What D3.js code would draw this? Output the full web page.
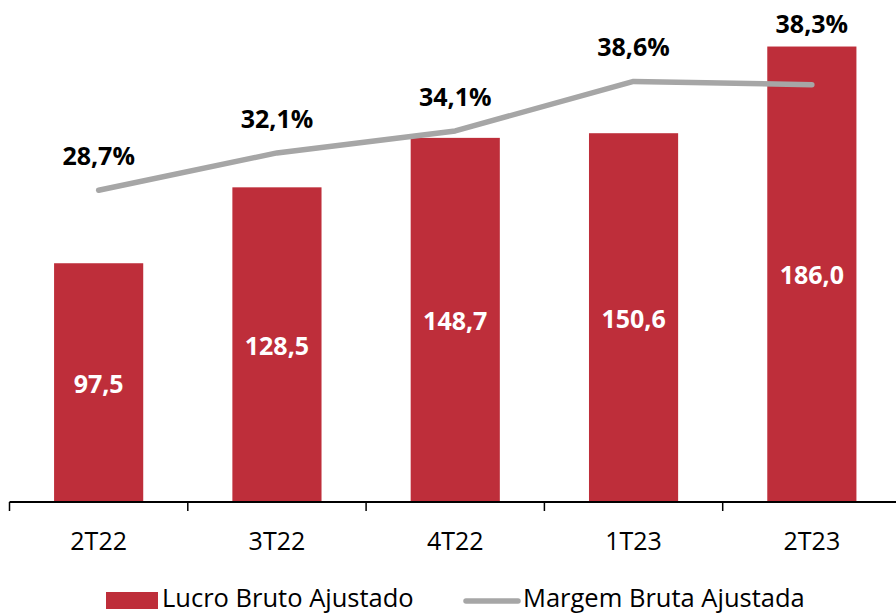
<!DOCTYPE html>
<html>
  <head>
    <meta charset="utf-8">
    <title>Lucro Bruto</title>
    <script src="https://cdn.jsdelivr.net/npm/d3@7"></script>
    <style>
    body {
      margin: 0;
      background: #fff;
    }
    text {
      font-family: "Open Sans", sans-serif;
    }
    .barval {
      fill: #fff;
      font-weight: bold;
      font-size: 25px;
    }
    .pctval {
      fill: #000;
      font-weight: bold;
      font-size: 25px;
    }
    .axis text {
      font-size: 25px;
      fill: #000;
    }
    .legend text {
      font-size: 25.5px;
      fill: #000;
    }
    </style>
  </head>
  <body>
    <div id="chart"></div>
    <script>

      var categories = ['2T22', '3T22', '4T22', '1T23', '2T23'];
      var lucro = [97.5, 128.5, 148.7, 150.6, 186.0];
      var margem = [28.7, 32.1, 34.1, 38.6, 38.3];
      var seriesNames = ['Lucro Bruto Ajustado', 'Margem Bruta Ajustada'];

      var width = 896, height = 613;
      var barColor = '#be2e3a';
      var lineColor = '#a6a6a6';
      var fmt = function(v) { return v.toFixed(1).replace('.', ','); };

      var svg = d3.select('#chart').append('svg')
        .attr('width', width)
        .attr('height', height);

      // scales
      var x = d3.scaleBand()
        .domain(categories)
        .range([9.5, 901])
        .paddingInner(0.5)
        .paddingOuter(0.25);
      var y = d3.scaleLinear().domain([0, 205]).range([502, 0]);
      var y2 = d3.scaleLinear().domain([0, 46]).range([506, 0]);

      // bars
      svg.selectAll('.bar')
        .data(lucro)
        .enter().append('rect')
        .attr('class', 'bar')
        .attr('x', function(d, i) { return x(categories[i]); })
        .attr('y', function(d) { return y(d); })
        .attr('width', x.bandwidth())
        .attr('height', function(d) { return y(0) - y(d); })
        .attr('fill', barColor);

      svg.selectAll('.barval')
        .data(lucro)
        .enter().append('text')
        .attr('class', 'barval')
        .attr('x', function(d, i) { return x(categories[i]) + x.bandwidth() / 2; })
        .attr('y', function(d) { return (y(d) + y(0)) / 2; })
        .attr('text-anchor', 'middle')
        .attr('dominant-baseline', 'central')
        .text(fmt);

      // axis
      var axis = d3.axisBottom(x).tickSize(0).tickPadding(0);
      var gx = svg.append('g')
        .attr('class', 'axis')
        .attr('transform', 'translate(0,502)')
        .call(axis);
      gx.select('.domain').remove();
      gx.append('line')
        .attr('x1', 9.5).attr('x2', width)
        .attr('stroke', '#000').attr('stroke-width', 2);
      var step = x.step();
      gx.selectAll('.sep')
        .data(d3.range(categories.length + 1))
        .enter().append('line')
        .attr('x1', function(i) { return 9.5 + i * step; })
        .attr('x2', function(i) { return 9.5 + i * step; })
        .attr('y1', 0).attr('y2', 9)
        .attr('stroke', '#000').attr('stroke-width', 1.5);
      gx.selectAll('.tick text')
        .attr('y', 48)
        .attr('dy', 0);

      // line
      var cx = function(i) { return x(categories[i]) + x.bandwidth() / 2; };
      var line = d3.line()
        .x(function(d, i) { return cx(i); })
        .y(function(d) { return y2(d); });
      svg.append('path')
        .datum(margem)
        .attr('d', line)
        .attr('fill', 'none')
        .attr('stroke', lineColor)
        .attr('stroke-width', 5.5)
        .attr('stroke-linecap', 'round')
        .attr('stroke-linejoin', 'round');

      svg.selectAll('.pctval')
        .data(margem)
        .enter().append('text')
        .attr('class', 'pctval')
        .attr('x', function(d, i) { return cx(i); })
        .attr('y', function(d, i) {
          return Math.min(y2(d) - 35, y(lucro[i]) - 24);
        })
        .attr('text-anchor', 'middle')
        .attr('dominant-baseline', 'central')
        .text(function(d) { return fmt(d) + '%'; });

      // legend
      var legend = svg.append('g').attr('class', 'legend');
      legend.append('rect')
        .attr('x', 106).attr('y', 592)
        .attr('width', 52).attr('height', 17)
        .attr('fill', barColor);
      legend.append('text')
        .attr('x', 162).attr('y', 607)
        .text(seriesNames[0]);
      legend.append('line')
        .attr('x1', 466).attr('x2', 518)
        .attr('y1', 601).attr('y2', 601)
        .attr('stroke', lineColor)
        .attr('stroke-width', 5.5)
        .attr('stroke-linecap', 'round');
      legend.append('text')
        .attr('x', 523).attr('y', 607)
        .text(seriesNames[1]);
    </script>
  </body>
</html>
